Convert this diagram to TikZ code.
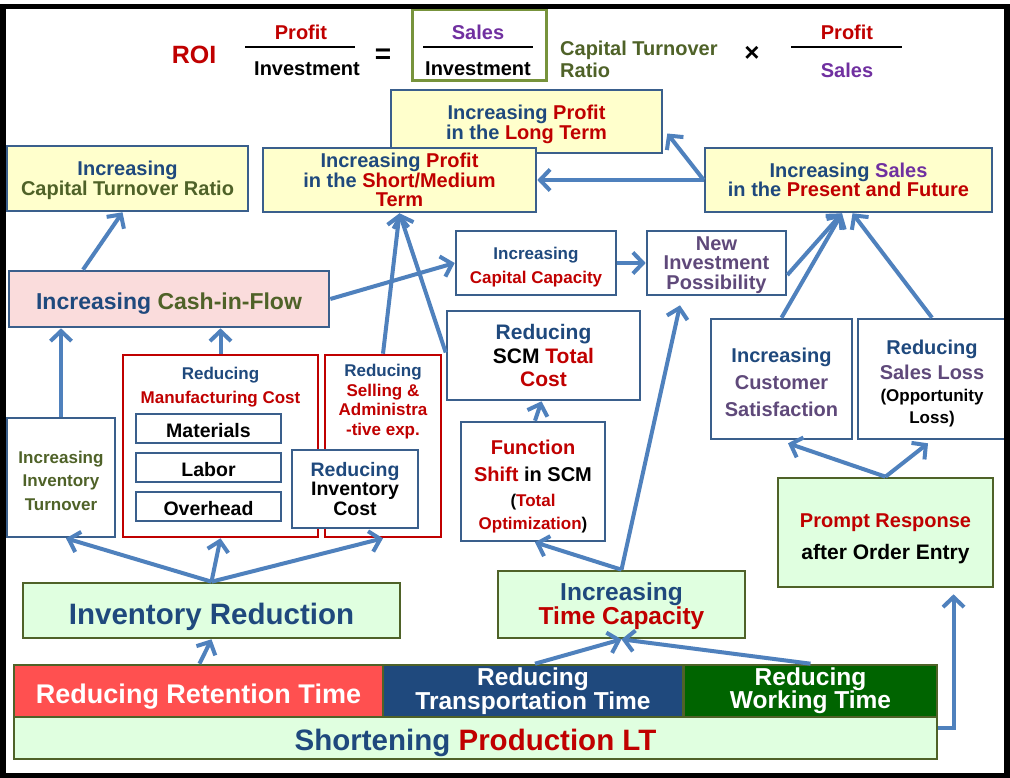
\documentclass[tikz,border=0pt]{standalone}
\usepackage{fontspec}
\setmainfont{Liberation Sans}
\usetikzlibrary{arrows.meta}

\definecolor{navy}{HTML}{1F497D}
\definecolor{dred}{HTML}{C00000}
\definecolor{olivetxt}{HTML}{4F6228}
\definecolor{purp}{HTML}{7030A0}
\definecolor{gpurp}{HTML}{5F497A}
\definecolor{bluebd}{HTML}{3A5F8C}
\definecolor{arrowblue}{HTML}{4F81BD}
\definecolor{yellowfill}{HTML}{FFFFCC}
\definecolor{pinkfill}{HTML}{FADCDC}
\definecolor{greenfill}{HTML}{E0FFE0}
\definecolor{olivebd}{HTML}{4F6228}
\definecolor{ratiobd}{HTML}{77933C}
\definecolor{redbd}{HTML}{C00000}
\definecolor{retfill}{HTML}{FF5050}
\definecolor{wrkfill}{HTML}{006400}

\newcommand\fsz[2]{\fontsize{#1}{#2}\selectfont}
% lower a single line of text without changing its box
\newcommand\dropby[2]{\raisebox{-#1pt}[\height][\depth]{#2}}

\tikzset{
  f/.style 2 args={font=\bfseries\fsz{#1}{#2}},
  sz/.style 2 args={minimum width=#1pt, minimum height=#2pt},
  txt/.style={inner sep=0pt, align=center},
  box/.style={draw=bluebd, line width=2.6pt, fill=white, inner sep=0pt, align=center},
  redbox/.style={draw=redbd, line width=2.6pt, fill=white, inner sep=0pt},
  greenbox/.style={draw=olivebd, line width=2.6pt, fill=greenfill, inner sep=0pt, align=center},
  barbox/.style={draw=olivebd, line width=2.6pt, inner sep=0pt, align=center, text=white},
  fracline/.style={draw=black, line width=2.2pt},
  conn/.style={draw=arrowblue, line width=4pt, -{Straight Barb[length=10pt,width=21pt]}},
}

\begin{document}
\begin{tikzpicture}[x=1pt,y=-1pt]
\useasboundingbox (0,0) rectangle (1010,778);
\fill[white] (0,0) rectangle (1010,778);

% ---- ROI formula ----
\node[txt, f={25}{25}, text=dred] (roi) at (194,55) {ROI};
\node[txt, f={20}{20}, text=dred] (profA) at (301,32) {Profit};
\node[txt, f={20}{20}] (invA) at (307,69) {Investment};
\draw[fracline] (245,47) -- (355,47);
\node[txt, f={28}{28}] (eqsign) at (383,56) {=};
\node[draw=ratiobd, line width=3pt, inner sep=0pt, sz={134}{71}] (ratiobox) at (479,45.5) {};
\draw[fracline] (423,47) -- (533,47);
\node[txt, f={20}{20}, text=purp] (salesA) at (478,32) {Sales};
\node[txt, f={20}{20}] (invB) at (478,69) {Investment};
\node[txt, f={20}{22}, text=olivetxt, align=left, anchor=west] (ctrA) at (560,59) {Capital Turnover\\Ratio};
\node[txt, f={26}{26}] (timesA) at (752,54) {×};
\draw[fracline] (791,47) -- (902,47);
\node[txt, f={20}{20}, text=dred] (profB) at (847,32) {Profit};
\node[txt, f={20}{20}, text=purp] (salesB) at (847,70) {Sales};

% ---- profit and sales targets ----
\node[box, fill=yellowfill, sz={271}{63}] (longterm) at (526.5,121.5) {};
\node[txt, f={20}{20}, text=navy] (longtermlbl) at ([yshift=-3pt]longterm.center)
  {Increasing \textcolor{dred}{Profit}\\in the \textcolor{dred}{Long Term}};
\node[box, fill=yellowfill, sz={273}{64}, f={20}{19.5}, text=navy] (shortmed) at (399.5,180)
  {Increasing \textcolor{dred}{Profit}\\in the \textcolor{dred}{Short/Medium}\\\textcolor{dred}{Term}};
\node[box, fill=yellowfill, sz={241}{65}] (ctr) at (127.5,178.5) {};
\node[txt, f={20}{20}, text=navy] (ctrlbl) at ([yshift=-2pt]ctr.center)
  {Increasing\\\textcolor{olivetxt}{Capital Turnover Ratio}};
\node[box, fill=yellowfill, sz={287}{64}, f={20}{19.5}, text=navy] (sales) at (848.5,180)
  {Increasing \textcolor{purp}{Sales}\\in the \textcolor{dred}{Present and Future}};

% ---- middle level ----
\node[box, fill=pinkfill, sz={320}{56}, f={23}{23}, text=navy] (cash) at (169,299)
  {\dropby{5}{Increasing \textcolor{olivetxt}{Cash-in-Flow}}};
\node[box, sz={160}{64}] (capcap) at (536,263) {};
\node[txt, f={17}{24}, text=navy] (capcaplbl) at ([yshift=-4pt]capcap.center)
  {Increasing\\\textcolor{dred}{Capital Capacity}};
\node[box, sz={139}{64}] (newinv) at (716.5,263) {};
\node[txt, f={20}{19.5}, text=gpurp] (newinvlbl) at ([yshift=-2pt]newinv.center)
  {New\\Investment\\Possibility};
\node[box, sz={193}{89}, f={21}{23.5}, text=navy] (scm) at (543.5,355.5)
  {Reducing\\\textcolor{black}{SCM} \textcolor{dred}{Total}\\\textcolor{dred}{Cost}};
\node[box, sz={141}{120}] (custsat) at (781.5,379) {};
\node[txt, f={20}{27}, text=navy] (custsatlbl) at ([yshift=-3pt]custsat.center)
  {Increasing\\\textcolor{gpurp}{Customer}\\\textcolor{gpurp}{Satisfaction}};
\node[box, sz={148}{120}] (salesloss) at (932,379) {};
\node[txt, f={20}{22}, text=navy] (salesslosslbl) at ([yshift=-4.5pt]salesloss.center)
  {Reducing\\[3pt]\textcolor{gpurp}{Sales Loss}\\{\fsz{17}{22}\color{black}(Opportunity}\\{\fsz{17}{22}\color{black}Loss)}};

% ---- cost reduction level ----
\node[box, sz={108}{119}] (invturn) at (61,477.5) {};
\node[txt, f={17}{23.5}, text=olivetxt] (invturnlbl) at ([yshift=-3pt]invturn.center)
  {Increasing\\Inventory\\Turnover};
\node[redbox, sz={195}{182}] (manuf) at (220.5,446) {};
\node[txt, f={17}{24}, text=navy] (manuflbl) at (220.5,387)
  {Reducing\\\textcolor{dred}{Manufacturing Cost}};
\node[box, sz={145}{29}, f={19.5}{19.5}] (materials) at (208.5,428.5) {\dropby{2}{Materials}};
\node[box, sz={145}{29}, f={19.5}{19.5}] (labor) at (208.5,467.5) {\dropby{2}{Labor}};
\node[box, sz={145}{29}, f={19.5}{19.5}] (overhead) at (208.5,506.5) {\dropby{2}{Overhead}};
\node[redbox, sz={116}{182}] (selling) at (383,446) {};
\node[txt, f={17}{19.7}, text=navy] (sellinglbl) at (383,401.5)
  {Reducing\\\textcolor{dred}{Selling \&}\\\textcolor{dred}{Administra}\\\textcolor{dred}{-tive exp.}};
\node[box, sz={126}{78}, f={19.5}{19.5}, text=navy] (invcost) at (355,489)
  {Reducing\\\textcolor{black}{Inventory}\\\textcolor{black}{Cost}};
\node[box, sz={144}{119}] (fshift) at (533,481.5) {};
\node[txt, f={20}{24}, text=dred] (fshiftlbl) at ([yshift=-5pt]fshift.center)
  {Function\\[3pt]Shift \textcolor{black}{in SCM}\\[1pt]{\fsz{17}{24}\textcolor{black}{(}Total}\\[-1pt]{\fsz{17}{24}Optimization\textcolor{black}{)}}};
\node[greenbox, sz={215}{109}] (prompt) at (885.5,532.5) {};
\node[txt, f={20}{32}, text=dred] (promptlbl) at ([yshift=-6pt]prompt.center)
  {Prompt Response\\{\fsz{21}{32}\color{black}after Order Entry}};

% ---- lead time level ----
\node[greenbox, sz={377}{55}, f={29.5}{29.5}, text=navy] (invred) at (211.5,610.5)
  {\dropby{6}{Inventory Reduction}};
\node[greenbox, sz={247}{67}] (timecap) at (621.5,604.5) {};
\node[txt, f={24.5}{24}, text=navy] (timecaplbl) at ([yshift=-2pt]timecap.center)
  {Increasing\\\textcolor{dred}{Time Capacity}};

\node[barbox, fill=retfill, sz={369}{52}, f={27}{27}] (retention) at (198.5,691)
  {\dropby{6}{Reducing Retention Time}};
\node[barbox, fill=navy, sz={300}{52}, f={24.5}{22}] (transport) at (533,691)
  {Reducing\\Transportation Time};
\node[barbox, fill=wrkfill, sz={253}{52}, f={24.5}{23}] (working) at (810.5,691)
  {Reducing\\Working Time};
\node[greenbox, sz={923}{42}, f={29.5}{29.5}, text=navy] (shorten) at (475.5,738)
  {\dropby{5}{Shortening \textcolor{dred}{Production LT}}};

% ---- connectors ----
\draw[conn] (invred.north) -- ([xshift=5pt]invturn.south);
\draw[conn] (invred.north) -- (manuf.south);
\draw[conn] (invred.north) -- (selling.south);
\draw[conn] ([xshift=1pt]retention.north) -- (invred.south);
\draw[conn] (invturn.north) -- (invturn.north |- cash.south);
\draw[conn] (manuf.north) -- (manuf.north |- cash.south);
\draw[conn] ([xshift=-86pt]cash.north) -- ([xshift=-5pt]ctr.south);
\draw[conn] (cash.east) -- (capcap.west);
\draw[conn] (selling.north) -- (shortmed.south);
\draw[conn] ([yshift=3pt]scm.west) -- (shortmed.south);
\draw[conn] (capcap.east) -- (newinv.west);
\draw[conn] ([yshift=-12pt]newinv.east) -- ([xshift=-6.5pt]sales.south);
\draw[conn] (custsat.north) -- ([xshift=-6.5pt]sales.south);
\draw[conn] (salesloss.north) -- ([xshift=4pt]sales.south);
\draw[conn] (sales.west) -- (shortmed.east);
\draw[conn] (sales.west) -- ([xshift=4pt,yshift=-12pt]longterm.east);
\draw[conn] ([xshift=2pt]fshift.north) -- ([xshift=-2pt]scm.south);
\draw[conn] (timecap.north) -- ([xshift=2pt]fshift.south);
\draw[conn] (timecap.north) -- ([xshift=-36.5pt,yshift=-9pt]newinv.south);
\draw[conn] ([xshift=2pt]transport.north) -- (timecap.south);
\draw[conn] (working.north) -- (timecap.south);
\draw[conn] ([yshift=10pt]shorten.east) -| ([xshift=68pt,yshift=-6pt]prompt.south);
\draw[conn] (prompt.north) -- ([xshift=6.5pt,yshift=-3pt]custsat.south);
\draw[conn] (prompt.north) -- ([xshift=-4pt,yshift=-3pt]salesloss.south);

% ---- outer frame ----
\draw[black, line width=5.5pt] (3,6.5) rectangle (1007,775.5);
\end{tikzpicture}
\end{document}
